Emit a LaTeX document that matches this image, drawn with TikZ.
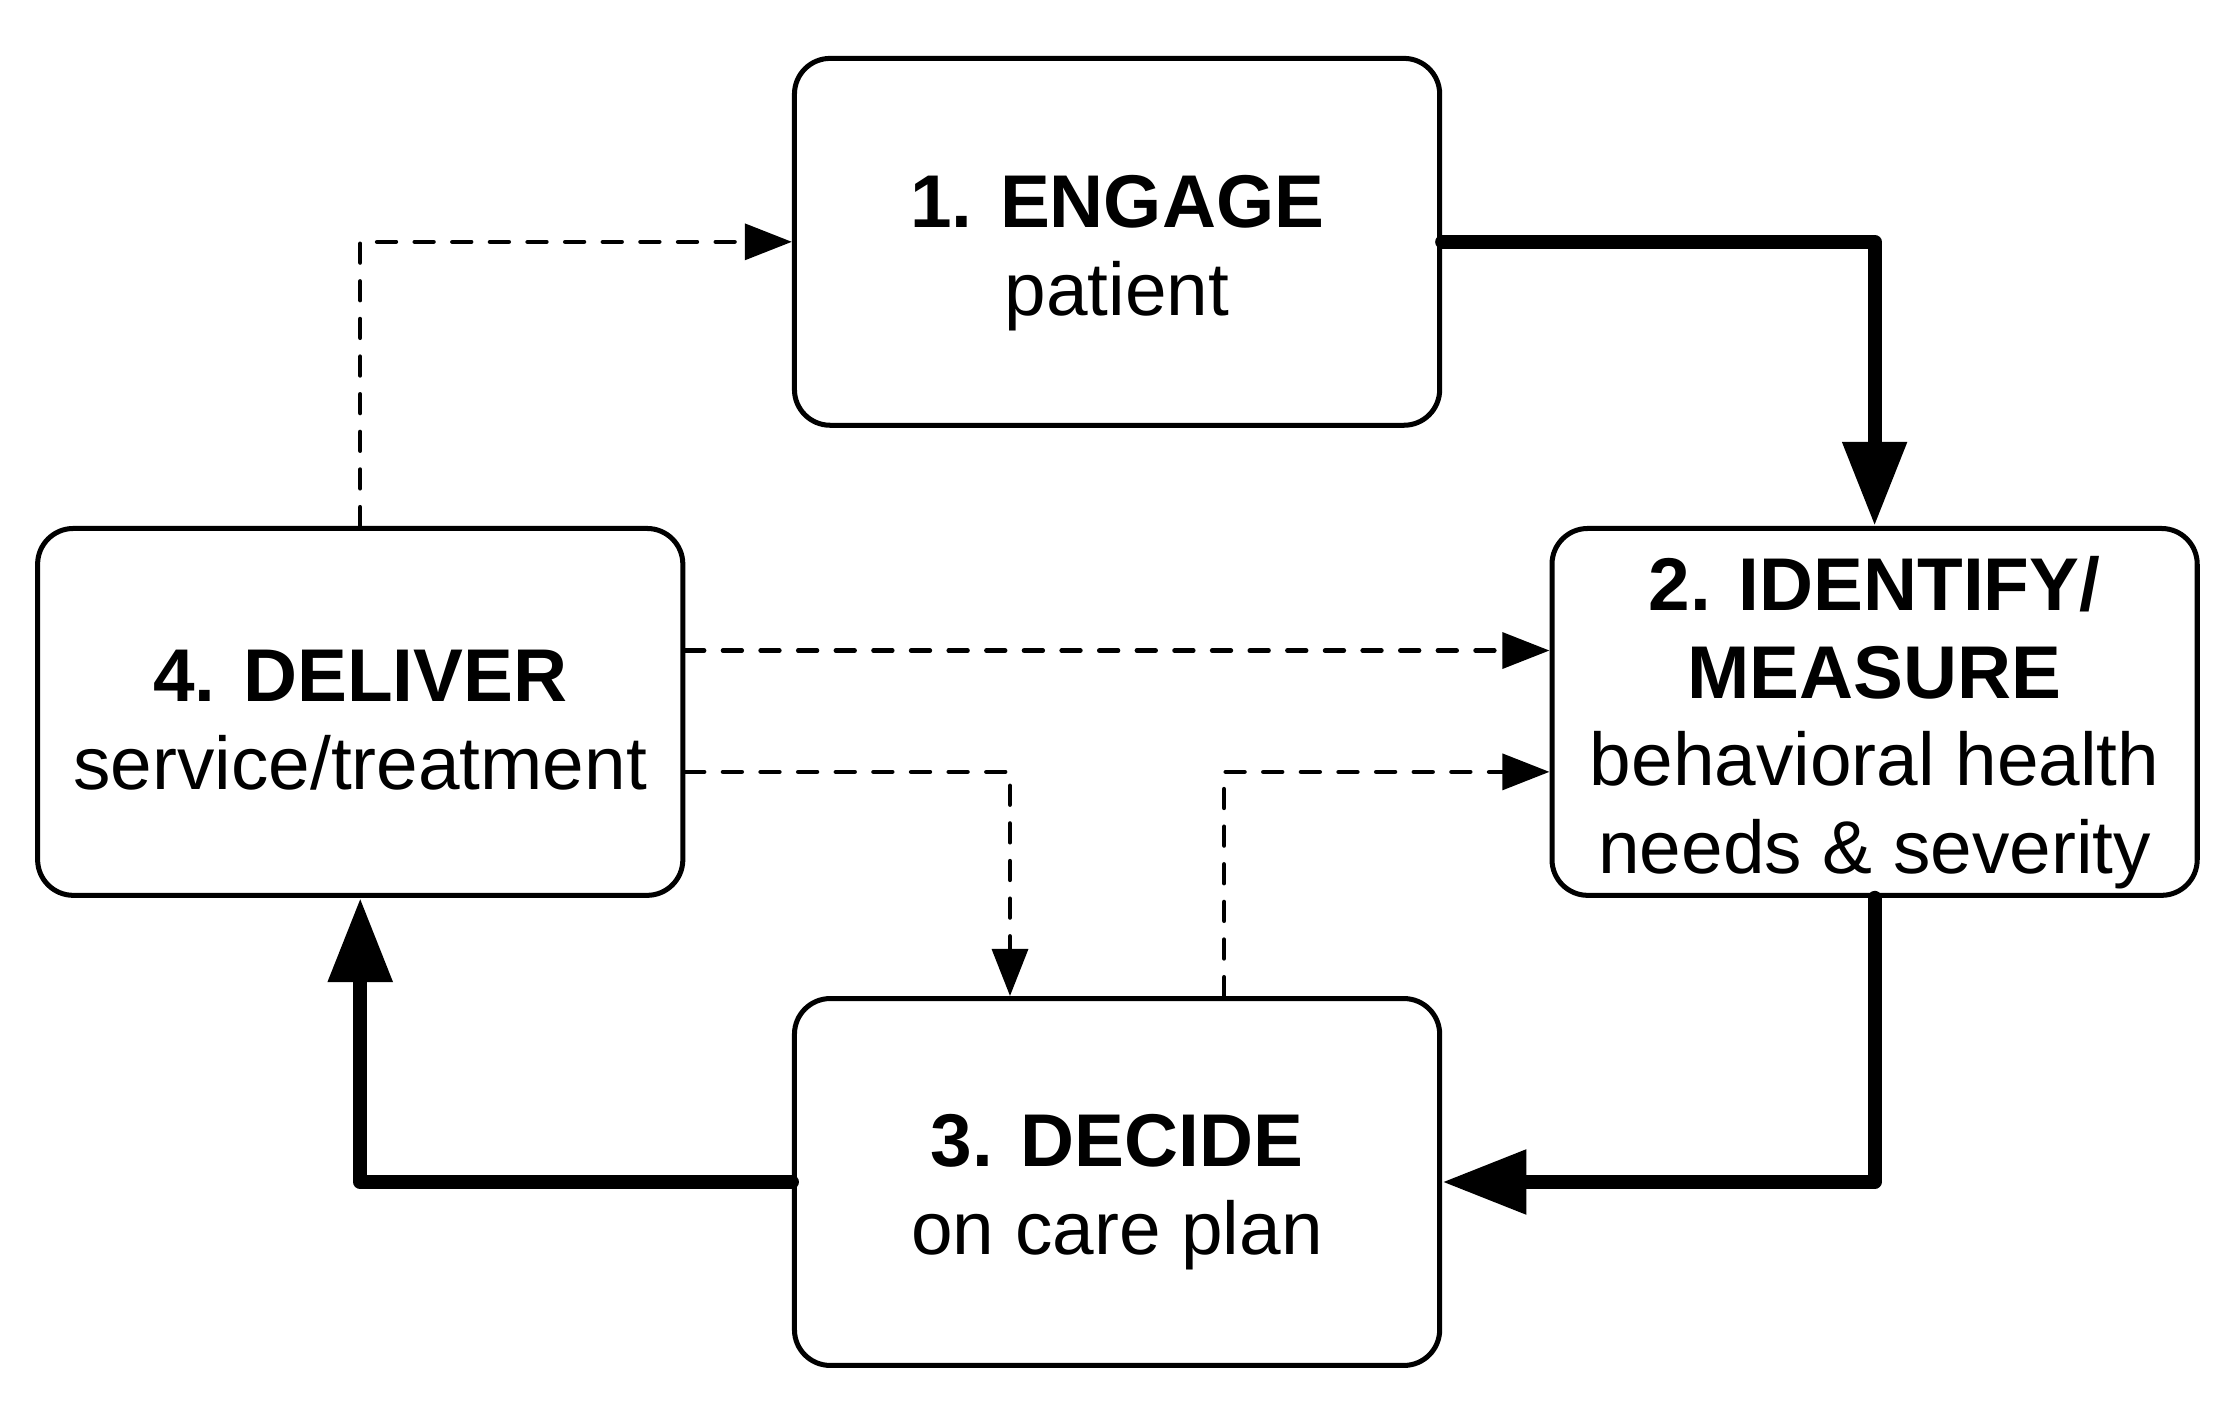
\documentclass[tikz,border=0pt]{standalone}
\usepackage{fontspec}
\setmainfont{Liberation Sans}
\usetikzlibrary{arrows.meta}
\begin{document}
\begin{tikzpicture}[x=0.01cm,y=-0.01cm,
  box/.style={draw,line width=1pt,rounded corners=0.25cm,minimum width=4.52cm,minimum height=2.57cm,inner sep=0pt},
  boxtext/.style={align=center,inner sep=0pt,font=\fontsize{14.9pt}{17.5pt}\selectfont},
  mainflow/.style={line width=2.8pt,line cap=round,line join=round,-{Triangle[length=0.59cm,width=0.43cm]}},
  sideflow/.style={line width=0.9pt,line cap=round,dash pattern=on 3.75pt off 3.75pt,-{Triangle[length=0.33cm,width=0.25cm]}}]
\useasboundingbox (0,0) rectangle (1568,984);
\node[box] (eng) at (783,169.5) {};
\node[box] (ide) at (1314,499) {};
\node[box] (dec) at (783,828.5) {};
\node[box] (del) at (252.5,499) {};
\node[boxtext] (engT) at ([yshift=-0.08cm]eng.center) {\textbf{1. ENGAGE}\\patient};
\node[boxtext] (ideT) at ([yshift=-0.075cm]ide.center) {\textbf{2. IDENTIFY/}\\\textbf{MEASURE}\\behavioral health\\needs \& severity};
\node[boxtext] (decT) at ([yshift=-0.07cm]dec.center) {\textbf{3. DECIDE}\\on care plan};
\node[boxtext] (delT) at ([yshift=-0.06cm]del.center) {\textbf{4. DELIVER}\\service/treatment};
\draw[mainflow] (eng.east) -| (ide.north);
\draw[mainflow] (ide.south) |- (dec.east);
\draw[mainflow] (dec.west) -| (del.south);
\draw[sideflow] (del.north) |- (eng.west);
\draw[sideflow] ([yshift=0.43cm]del.east) -- ([yshift=0.43cm]ide.west);
\draw[sideflow] ([yshift=-0.42cm]del.east) -| ([xshift=-0.75cm]dec.north);
\draw[sideflow] ([xshift=0.75cm]dec.north) |- ([yshift=-0.42cm]ide.west);
\end{tikzpicture}
\end{document}
